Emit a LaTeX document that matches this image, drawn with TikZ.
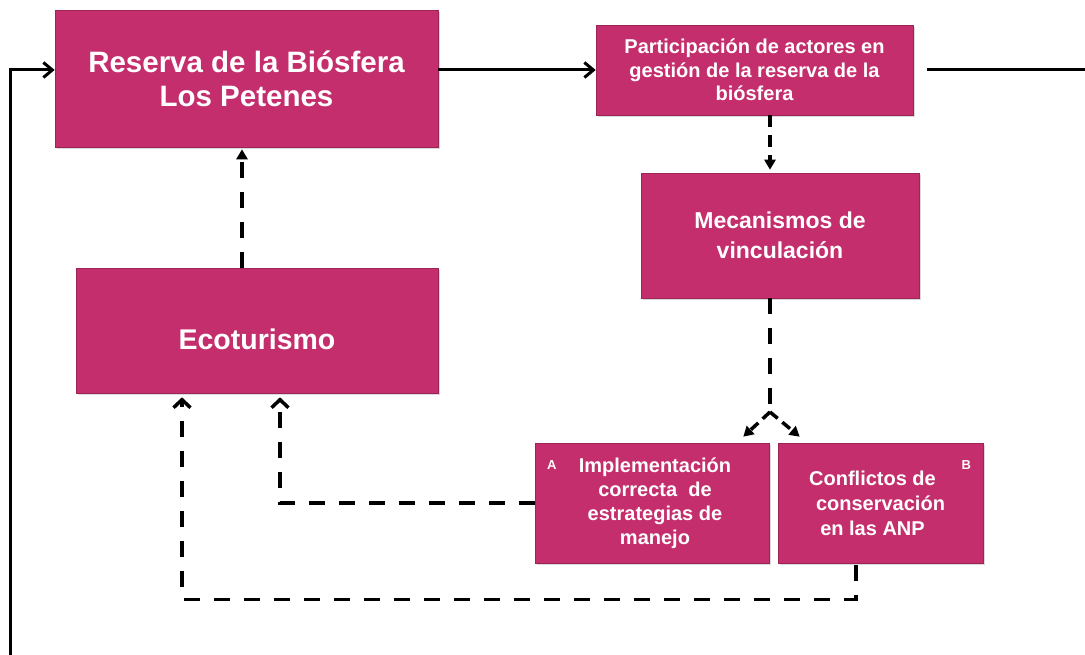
\documentclass[tikz,border=0pt]{standalone}
\usepackage{fontspec}
\setmainfont{Liberation Sans}
\usetikzlibrary{arrows.meta,shadows}

\definecolor{rosa}{RGB}{196,46,108}

\tikzset{
  caja/.style={fill=rosa, draw=rosa!80!black, line width=0.6pt, text=white,
    align=center, inner sep=0pt,
    drop shadow={shadow xshift=2pt, shadow yshift=-2pt, opacity=0.3}},
  letra/.style={text=white, font=\bfseries\fontsize{13}{13}\selectfont, inner sep=0pt},
  linea/.style={line width=3pt, line join=miter},
  flecha/.style={linea, -{Straight Barb[length=9pt,width=15pt,line width=3pt]}},
  punteada/.style={line width=3.5pt, dash pattern=on 16pt off 14pt},
  punta/.style={-{Straight Barb[length=8pt,width=17pt,line width=3.5pt]}},
  llena/.style={-{Triangle[length=10pt,width=11pt]}}
}

\begin{document}
\begin{tikzpicture}[x=1pt, y={(0pt,-1pt)}]
        \useasboundingbox (0,0) rectangle (1085,655);

        \node[caja, minimum width=383pt, minimum height=137pt,
            font=\bfseries\fontsize{29.5}{34}\selectfont] (reserva) at (246.5,78.5)
            {Reserva de la Biósfera\\Los Petenes};
        \node[caja, minimum width=317pt, minimum height=90pt,
            font=\bfseries\fontsize{20}{23.5}\selectfont] (part) at (754.5,70)
            {Participación de actores en\\gestión de la reserva de la\\biósfera};
        \node[caja, minimum width=278pt, minimum height=125pt,
            font=\bfseries\fontsize{23}{30}\selectfont] (meca) at (780,235.5)
            {Mecanismos de\\vinculación};
        \node[caja, minimum width=362pt, minimum height=125pt,
            font=\bfseries\fontsize{28.5}{34}\selectfont] (eco) at (257,330.5)
            {\raisebox{-19pt}[0pt][0pt]{Ecoturismo}};
        \node[caja, minimum width=234pt, minimum height=120pt,
            font=\bfseries\fontsize{20}{24}\selectfont] (impl) at (652,503)
            {\hspace*{6pt}Implementación\\\hspace*{6pt}correcta~ de\\\hspace*{6pt}estrategias de\\\hspace*{6pt}manejo};
        \node[caja, minimum width=205pt, minimum height=120pt,
            font=\bfseries\fontsize{20}{25}\selectfont] (conf) at (880.5,503)
            {Conflictos de\hspace*{16pt}\\conservación\hspace*{16pt}\\en las ANP\hspace*{16pt}};

        \node[letra] (letraA) at ([xshift=17pt,yshift=-22pt]impl.north west) {A};
        \node[letra] (letraB) at ([xshift=-17pt,yshift=-22pt]conf.north east) {B};

        % lazo de retroalimentacion
        \coordinate (salida) at (1085,70);
        \coordinate (retorno) at (10,655);
        \draw[flecha] (part.west -| reserva.east) -- (part.west);
        \draw[linea, shorten <=14pt] (part.east) -- (salida);
        \draw[flecha] (retorno) -- (retorno |- part.west) -- (part.west -| reserva.west);

        % vinculos punteados
        \draw[punteada, dash pattern=on 12pt off 8pt, llena, shorten >=3pt]
            ([xshift=15.5pt]part.south) -- ([xshift=15.5pt]part.south |- meca.north);
        \coordinate (bifurca) at (770,412);
        \draw[punteada] ([xshift=-10pt]meca.south) -- (bifurca);
        \draw[punteada, dash pattern=on 10pt off 6pt, llena] (bifurca)
            -- ([xshift=-26pt,yshift=6pt]impl.north east);
        \draw[punteada, dash pattern=on 10pt off 6pt, llena] (bifurca)
            -- ([xshift=22pt,yshift=6pt]conf.north west);
        \draw[punteada, llena, shorten >=2pt] ([xshift=-15pt]eco.north)
            -- ([xshift=-15pt]eco.north |- reserva.south);

        \coordinate (ecoA) at ([xshift=23pt]eco.south);
        \coordinate (ecoB) at ([xshift=-75pt]eco.south);
        \draw[punteada, punta, shorten >=4pt] (impl.west) -- (impl.west -| ecoA) -- (ecoA);
        \draw[punteada, punta, shorten >=4pt] ([xshift=-24.5pt,yshift=-2pt]conf.south)
            -- ++(0,34) -| (ecoB);
    \end{tikzpicture}
\end{document}
